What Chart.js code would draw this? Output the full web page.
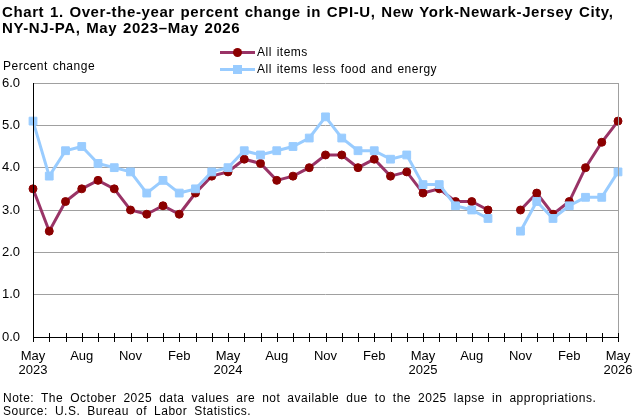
<!DOCTYPE html>
<html>
<head>
<meta charset="utf-8">
<script src="https://cdn.jsdelivr.net/npm/chart.js@4/dist/chart.umd.min.js"></script>
<style>
  html, body { margin:0; padding:0; background:#fff; }
  #wrap { position:relative; width:643px; height:420px; overflow:hidden; font-family:"Liberation Sans", Arial, sans-serif; color:#000; }
  #c { position:absolute; left:0; top:0; }
  .t { position:absolute; white-space:nowrap; }
  #title { left:2px; top:4px; font-weight:bold; font-size:15px; line-height:15.5px; letter-spacing:0.6px; word-spacing:1px; }
  #ylab { left:3px; top:59px; font-size:12px; letter-spacing:0.5px; word-spacing:1px; }
  #legend { left:220px; top:44px; font-size:12px; letter-spacing:0.5px; word-spacing:1px; }
  .lg { position:relative; height:16.5px; line-height:16.5px; }
  .lg .ln { position:absolute; left:0; top:7px; width:35px; height:3px; }
  .lg .mk { position:absolute; }
  .lg .tx { position:absolute; left:37px; top:0; }
  #note { left:3px; top:391.5px; font-size:12px; line-height:13.5px; letter-spacing:0.5px; word-spacing:3.2px; }
</style>
</head>
<body>
<div id="wrap">
  <canvas id="c" width="643" height="420"></canvas>
  <div class="t" id="title">Chart 1. Over-the-year percent change in CPI-U, New York-Newark-Jersey City,<br>NY-NJ-PA, May 2023–May 2026</div>
  <div class="t" id="ylab">Percent change</div>
  <div class="t" id="legend">
    <div class="lg"><span class="ln" style="background:#993366"></span><span class="mk" style="left:13px;top:4px;width:9px;height:9px;border-radius:50%;background:#8b0000"></span><span class="tx">All items</span></div>
    <div class="lg"><span class="ln" style="background:#99ccff"></span><span class="mk" style="left:13px;top:4px;width:9px;height:9px;background:#99ccff"></span><span class="tx">All items less food and energy</span></div>
  </div>
  <div class="t" id="note">Note: The October 2025 data values are not available due to the 2025 lapse in appropriations.<br>Source: U.S. Bureau of Labor Statistics.</div>
</div>
<script>
const months = ["May","Jun","Jul","Aug","Sep","Oct","Nov","Dec","Jan","Feb","Mar","Apr",
                "May","Jun","Jul","Aug","Sep","Oct","Nov","Dec","Jan","Feb","Mar","Apr",
                "May","Jun","Jul","Aug","Sep","Oct","Nov","Dec","Jan","Feb","Mar","Apr","May"];
const years = {0:"2023",12:"2024",24:"2025",36:"2026"};
const allItems = [3.5,2.5,3.2,3.5,3.7,3.5,3.0,2.9,3.1,2.9,3.4,3.8,
                  3.9,4.2,4.1,3.7,3.8,4.0,4.3,4.3,4.0,4.2,3.8,3.9,
                  3.4,3.5,3.2,3.2,3.0,null,3.0,3.4,2.9,3.2,4.0,4.6,5.1];
const lessFoodEnergy = [5.1,3.8,4.4,4.5,4.1,4.0,3.9,3.4,3.7,3.4,3.5,3.9,
                        4.0,4.4,4.3,4.4,4.5,4.7,5.2,4.7,4.4,4.4,4.2,4.3,
                        3.6,3.6,3.1,3.0,2.8,null,2.5,3.2,2.8,3.1,3.3,3.3,3.9];
const yTicks = [0,1,2,3,4,5,6];

const axisPlugin = {
  id: 'axisPlugin',
  afterDatasetsDraw(chart) {
    const ctx = chart.ctx, a = chart.chartArea, x = chart.scales.x;
    ctx.save();
    ctx.strokeStyle = '#a0a0a0'; ctx.lineWidth = 1;
    ctx.beginPath(); ctx.moveTo(Math.round(a.right)+0.5, a.top); ctx.lineTo(Math.round(a.right)+0.5, a.bottom); ctx.stroke();
    ctx.strokeStyle = '#000';
    ctx.beginPath(); ctx.moveTo(Math.round(a.left)+0.5, a.top); ctx.lineTo(Math.round(a.left)+0.5, a.bottom+0.5); ctx.stroke();
    ctx.beginPath(); ctx.moveTo(a.left, Math.round(a.bottom)+0.5); ctx.lineTo(a.right+1, Math.round(a.bottom)+0.5); ctx.stroke();
    for (let i = 0; i < months.length; i++) {
      const px = Math.round(x.getPixelForValue(i)) + 0.5;
      ctx.beginPath(); ctx.moveTo(px, Math.round(a.bottom) - 4); ctx.lineTo(px, Math.round(a.bottom) + 5); ctx.stroke();
    }
    ctx.restore();
  }
};

new Chart(document.getElementById('c'), {
  type: 'line',
  data: {
    labels: months,
    datasets: [
      { label: 'All items', data: allItems, borderColor: '#993366', backgroundColor: '#8b0000',
        pointBackgroundColor: '#8b0000', pointBorderColor: '#8b0000', borderWidth: 3,
        pointRadius: 4, pointBorderWidth: 1, pointStyle: 'circle', spanGaps: false, order: 2 },
      { label: 'All items less food and energy', data: lessFoodEnergy, borderColor: '#99ccff', backgroundColor: '#99ccff',
        pointBackgroundColor: '#99ccff', pointBorderColor: '#99ccff', borderWidth: 3,
        pointRadius: 5.5, pointBorderWidth: 1, pointStyle: 'rect', spanGaps: false, order: 1 }
    ]
  },
  options: {
    responsive: false, animation: false, devicePixelRatio: 1,
    layout: { padding: { top: 83, right: 25, left: 2, bottom: 0 } },
    plugins: { legend: { display: false }, tooltip: { enabled: false }, title: { display: false } },
    elements: { line: { tension: 0 } },
    scales: {
      x: {
        type: 'category', offset: false,
        grid: { display: false }, border: { display: false },
        ticks: {
          autoSkip: false, maxRotation: 0, minRotation: 0, padding: 4,
          color: '#000', font: { family: '"Liberation Sans", Arial, sans-serif', size: 13, lineHeight: 1.12 },
          callback: (v, i) => (i % 3 === 0) ? (years[i] ? [months[i], years[i]] : months[i]) : ''
        },
        afterFit: s => { s.height = 83; }
      },
      y: {
        min: 0, max: 6,
        afterBuildTicks: s => { s.ticks = yTicks.map(v => ({ value: v })); },
        grid: { color: '#a0a0a0', drawTicks: false, lineWidth: 1 },
        border: { display: false },
        ticks: { crossAlign: 'far', padding: 0, color: '#000',
          font: { family: '"Liberation Sans", Arial, sans-serif', size: 13 },
          callback: v => v.toFixed(1) },
        afterFit: s => { s.width = 31; }
      }
    }
  },
  plugins: [axisPlugin]
});
</script>
</body>
</html>
